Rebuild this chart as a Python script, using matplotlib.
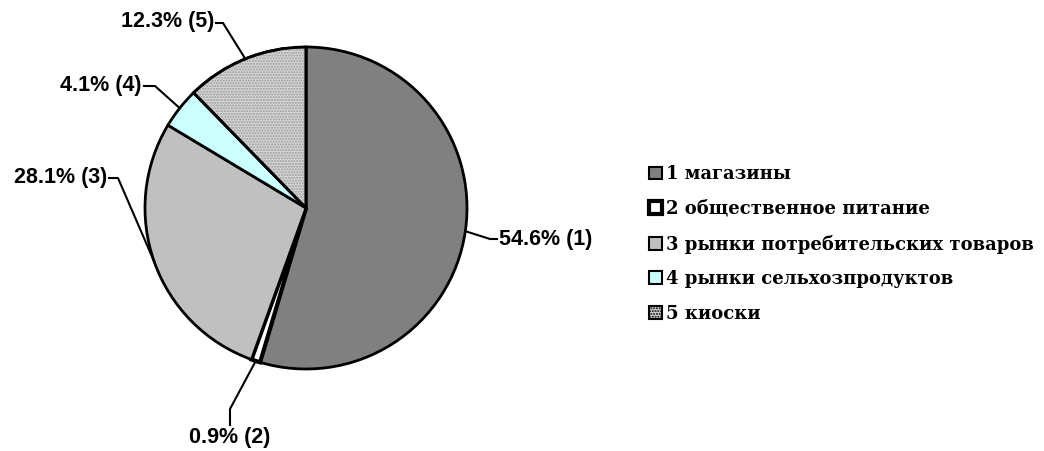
import numpy as np
import matplotlib
matplotlib.use("Agg")
import matplotlib.pyplot as plt
from matplotlib.patches import Wedge, Patch

# data
shares = [54.6, 0.9, 28.1, 4.1, 12.3]
numbers = ["1", "2", "3", "4", "5"]
names = ["магазины", "общественное питание", "рынки потребительских товаров",
         "рынки сельхозпродуктов", "киоски"]
colors = ["#808080", "#ffffff", "#c0c0c0", "#ccffff", "#d6d6d6"]

W, H = 1044, 451
fig = plt.figure(figsize=(W / 100, H / 100), dpi=100)

# pie centre (306, 208) px, radius 161 px
cx, cy, r = 306, 208, 161
ax = fig.add_axes([(cx - r) / W, (H - cy - r) / H, 2 * r / W, 2 * r / H])

wedges, _ = ax.pie(shares, colors=colors, startangle=90, counterclock=False,
                   radius=1, wedgeprops=dict(edgecolor="black", linewidth=2))
wedges[1].set_linewidth(3)
ax.set_xlim(-1, 1)
ax.set_ylim(-1, 1)
ax.axis("off")

# dotted texture on the kiosk slice
w5 = wedges[4]
ax.add_patch(Wedge((0, 0), 1, w5.theta1, w5.theta2, facecolor="none",
                   edgecolor="#9a9a9a", linewidth=0, hatch="......"))
ax.add_patch(Wedge((0, 0), 1, w5.theta1, w5.theta2, facecolor="none",
                   edgecolor="black", linewidth=2))


def px(x, y):
    return (x - cx) / r, (cy - y) / r


# leader lines: elbow and end in pixels, text anchor
leaders = [
    ((490, 239), (497, 239), (499, 240), "left", "center"),
    ((230, 409), (230, 425), (230, 437), "center", "center"),
    ((118, 178), (109, 178), (107, 178), "right", "center"),
    ((155, 86), (144, 86), (142, 86), "right", "center"),
    ((223, 23), (216, 23), (214, 22), "right", "center"),
]

for w, s, n, (elb, end, tp, ha, va) in zip(wedges, shares, numbers, leaders):
    mid = np.deg2rad((w.theta1 + w.theta2) / 2)
    x0, y0 = np.cos(mid), np.sin(mid)
    x1, y1 = px(*elb)
    x2, y2 = px(*end)
    ax.plot([x0, x1, x2], [y0, y1, y2], color="black", lw=1.5, clip_on=False)
    tx, ty = px(*tp)
    ax.text(tx, ty, f"{s}% ({n})", ha=ha, va=va, fontsize=15.5,
            fontweight="bold", family="Liberation Sans", clip_on=False)

handles = [Patch(facecolor=c, edgecolor="black", linewidth=1.5) for c in colors]
handles[1] = Patch(facecolor="white", edgecolor="black", linewidth=3)
handles[4] = Patch(facecolor=colors[4], edgecolor="black", linewidth=1.5, hatch="......")
labels = [f"{n} {t}" for n, t in zip(numbers, names)]
fig.legend(handles, labels, loc="center left", bbox_to_anchor=(633 / W, (H - 244) / H),
           frameon=False, handlelength=0.7, handleheight=0.7, handletextpad=0.25,
           labelspacing=0.92, prop=dict(family="DejaVu Serif", weight="bold", size=13))

fig.savefig("out.png", dpi=100)
